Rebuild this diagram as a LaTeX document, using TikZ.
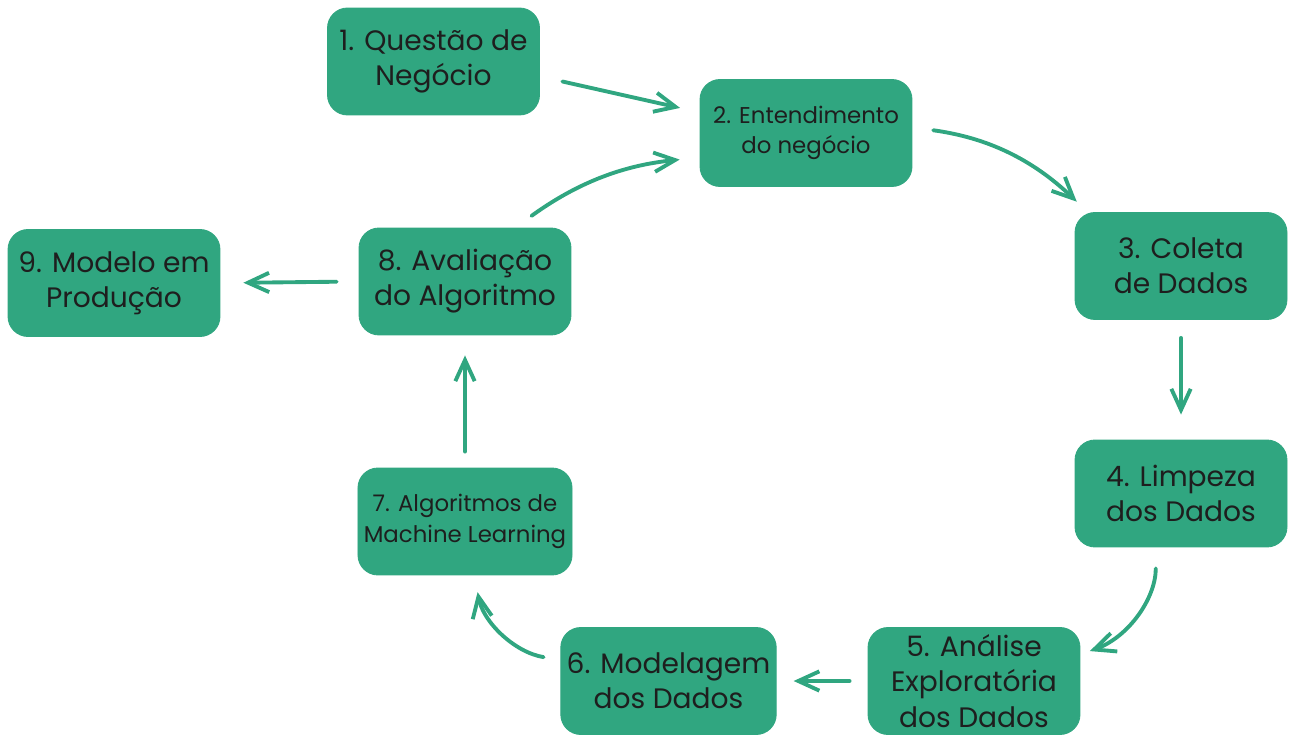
\documentclass[tikz,border=0pt]{standalone}
\usepackage{fontspec}
\setmainfont{Poppins}
\usetikzlibrary{arrows.meta}

\definecolor{verde}{RGB}{48,166,128}
\definecolor{tinta}{RGB}{30,30,30}

\begin{document}
\begin{tikzpicture}[x=0.02cm,y=0.02cm,->,>={Straight Barb[length=12pt,width=11pt]},
                    color=verde,line width=2.2pt,line cap=round,line join=round]
  \tikzstyle{etapa}=[rectangle,rounded corners=0.4cm,fill=verde,draw=verde,
                     line width=0.5pt,minimum width=4.24cm,minimum height=2.14cm,
                     align=center,text=tinta,font=\fontsize{16}{20}\selectfont]
  \tikzstyle{etapa menor}=[etapa,font=\fontsize{13}{17.5}\selectfont]

  \useasboundingbox (0,0) rectangle (1297,744);

  \node[etapa]       (Q1) at (433.5,682.5) {1. Questão de\\Negócio};
  \node[etapa menor] (Q2) at (806,611)     {2. Entendimento\\do negócio};
  \node[etapa]       (Q3) at (1181,478)    {3. Coleta\\de Dados};
  \node[etapa]       (Q4) at (1181,250.5)  {4. Limpeza\\dos Dados};
  \node[etapa]       (Q5) at (974,63)      {5. Análise\\Exploratória\\dos Dados};
  \node[etapa]       (Q6) at (668.5,63)    {6. Modelagem\\dos Dados};
  \node[etapa menor] (Q7) at (465,222.5)   {7. Algoritmos de\\Machine Learning};
  \node[etapa]       (Q8) at (465,462.5)   {8. Avaliação\\do Algoritmo};
  \node[etapa]       (Q9) at (114,461)     {9. Modelo em\\Produção};

  \path (Q1.-8)   edge [shorten <=0.46cm,shorten >=0.4cm] (Q2.169)
        (Q2.3)    edge [bend left=18,shorten <=0.42cm,shorten >=0.3cm] (Q3.150)
        (Q3.south) edge [shorten <=0.36cm,shorten >=0.5cm] (Q4.north)
        (Q4.-115) edge [bend left=35,shorten <=0.42cm,shorten >=0.2cm] (Q5.14)
        (Q5.west) edge [shorten <=0.36cm,shorten >=0.34cm] (Q6.east)
        (Q6.169)  edge [bend left=35,shorten <=0.34cm,shorten >=0.34cm] (Q7.-80)
        (Q7.north) edge [shorten <=0.32cm,shorten >=0.4cm] (Q8.south)
        (Q8.47)   edge [bend left=15,shorten <=0.4cm,shorten >=0.4cm] (Q2.-167)
        (Q8.west) edge [shorten <=0.44cm,shorten >=0.46cm] (Q9.east);

\end{tikzpicture}
\end{document}
